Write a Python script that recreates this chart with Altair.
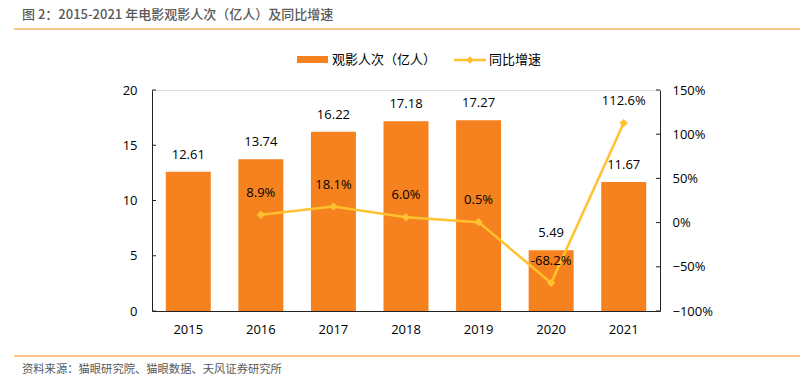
import altair as alt
import pandas as pd

years = ["2015", "2016", "2017", "2018", "2019", "2020", "2021"]
viewers = [12.61, 13.74, 16.22, 17.18, 17.27, 5.49, 11.67]
growth_years = ["2016", "2017", "2018", "2019", "2020", "2021"]
growth = [0.089, 0.181, 0.060, 0.005, -0.682, 1.126]
left_ticks = [0, 5, 10, 15, 20]
right_ticks = [-1.0, -0.5, 0.0, 0.5, 1.0, 1.5]

title_text = "图 2：2015-2021 年电影观影人次（亿人）及同比增速"
source_text = "资料来源：猫眼研究院、猫眼数据、天风证券研究所"
legend_bar = "观影人次（亿人）"
legend_line = "同比增速"

BAR = "#F5821F"
LINE = "#FFC12E"
FONT = "Noto Sans CJK SC"
NUMFONT = "Open Sans"

W, H = 508, 221

bars_df = pd.DataFrame({"year": years, "v": viewers, "lab": [f"{v:.2f}" for v in viewers]})
line_df = pd.DataFrame({"year": growth_years, "g": growth, "lab": [f"{g*100:.1f}%" for g in growth]})
lt_df = pd.DataFrame({"t": left_ticks})
rt_df = pd.DataFrame({"t": right_ticks})
one = pd.DataFrame({"a": [0]})

xenc = alt.X("year:N", sort=years, title=None,
             scale=alt.Scale(paddingInner=0.38, paddingOuter=0.19),
             axis=alt.Axis(labelAngle=0, ticks=False, domain=True, domainColor="#222",
                           labelPadding=12, labelFontSize=13, labelColor="#000",
                           labelFont=NUMFONT, grid=False))

yl_axis = alt.Axis(values=left_ticks, ticks=False, domain=True, domainColor="#222",
                   labelPadding=15, labelFontSize=13, labelColor="#000",
                   labelFont=NUMFONT, grid=False, title=None)
yl_scale = alt.Scale(domain=[0, 20], nice=False, zero=True)

yr_axis = alt.Axis(values=right_ticks, format=".0%", orient="right", ticks=False,
                   domain=True, domainColor="#222", labelPadding=12, labelFontSize=13,
                   labelColor="#000", labelFont=NUMFONT, grid=False, title=None)
yr_scale = alt.Scale(domain=[-1, 1.5], nice=False, zero=False)

bars = alt.Chart(bars_df).mark_bar(color=BAR).encode(
    x=xenc, y=alt.Y("v:Q", scale=yl_scale, axis=yl_axis))
bar_text = alt.Chart(bars_df).mark_text(dy=-17, baseline="middle", fontSize=13,
                                        font=NUMFONT, color="#000").encode(
    x=alt.X("year:N", sort=years), y=alt.Y("v:Q", scale=yl_scale, axis=yl_axis), text="lab:N")
lticks = alt.Chart(lt_df).mark_rule(color="#222").encode(
    y=alt.Y("t:Q", scale=yl_scale, axis=yl_axis), x=alt.value(0), x2=alt.value(4))

left_group = alt.layer(bars, bar_text, lticks)

line = alt.Chart(line_df).mark_line(color=LINE, strokeWidth=2.5).encode(
    x=alt.X("year:N", sort=years), y=alt.Y("g:Q", scale=yr_scale, axis=yr_axis))
pts = alt.Chart(line_df).mark_point(shape="diamond", filled=True, size=70, color=LINE,
                                    opacity=1).encode(
    x=alt.X("year:N", sort=years), y=alt.Y("g:Q", scale=yr_scale, axis=yr_axis))
line_text = alt.Chart(line_df).mark_text(dy=-22, baseline="middle", fontSize=13,
                                         font=NUMFONT, color="#000").encode(
    x=alt.X("year:N", sort=years), y=alt.Y("g:Q", scale=yr_scale, axis=yr_axis), text="lab:N")
rticks = alt.Chart(rt_df).mark_rule(color="#222").encode(
    y=alt.Y("t:Q", scale=yr_scale, axis=yr_axis), x=alt.value(W - 4), x2=alt.value(W))

right_group = alt.layer(line, pts, line_text, rticks)

# decorations (title, source, legend)
base = alt.Chart(one)
title = base.mark_text(align="left", baseline="middle", fontSize=13, fontWeight=500,
                       font=FONT, color="#595959").encode(
    x=alt.value(-130), y=alt.value(-75), text=alt.value(title_text))
title_rule = base.mark_rule(color="#F8B06A", strokeWidth=1.5).encode(
    x=alt.value(-138), x2=alt.value(660), y=alt.value(-61))
src_rule = base.mark_rule(color="#F8B06A", strokeWidth=1.5).encode(
    x=alt.value(-138), x2=alt.value(660), y=alt.value(266))
src = base.mark_text(align="left", baseline="middle", fontSize=11.3, font=FONT,
                     color="#595959").encode(
    x=alt.value(-130), y=alt.value(280), text=alt.value(source_text))
leg_rect = base.mark_rect(color=BAR).encode(
    x=alt.value(145), x2=alt.value(176), y=alt.value(-34), y2=alt.value(-27))
leg_t1 = base.mark_text(align="left", baseline="middle", fontSize=13, font=FONT,
                        color="#000").encode(
    x=alt.value(180), y=alt.value(-30), text=alt.value(legend_bar))
leg_line = base.mark_rule(color=LINE, strokeWidth=2.5).encode(
    x=alt.value(302), x2=alt.value(334), y=alt.value(-30))
leg_pt = base.mark_point(shape="diamond", filled=True, size=60, color=LINE, opacity=1).encode(
    x=alt.value(318), y=alt.value(-30))
leg_t2 = base.mark_text(align="left", baseline="middle", fontSize=13, font=FONT,
                        color="#000").encode(
    x=alt.value(337), y=alt.value(-30), text=alt.value(legend_line))

chart = alt.layer(
    left_group, right_group,
    title, title_rule, src_rule, src, leg_rect, leg_t1, leg_line, leg_pt, leg_t2
).resolve_scale(y="independent").properties(
    width=W, height=H,
    autosize=alt.AutoSizeParams(type="none"),
    padding={"left": 144, "top": 82, "right": 140, "bottom": 72},
).configure_view(stroke=None).configure(background="white")

chart.save("out.html", embed_options={"renderer": "svg", "actions": False})
